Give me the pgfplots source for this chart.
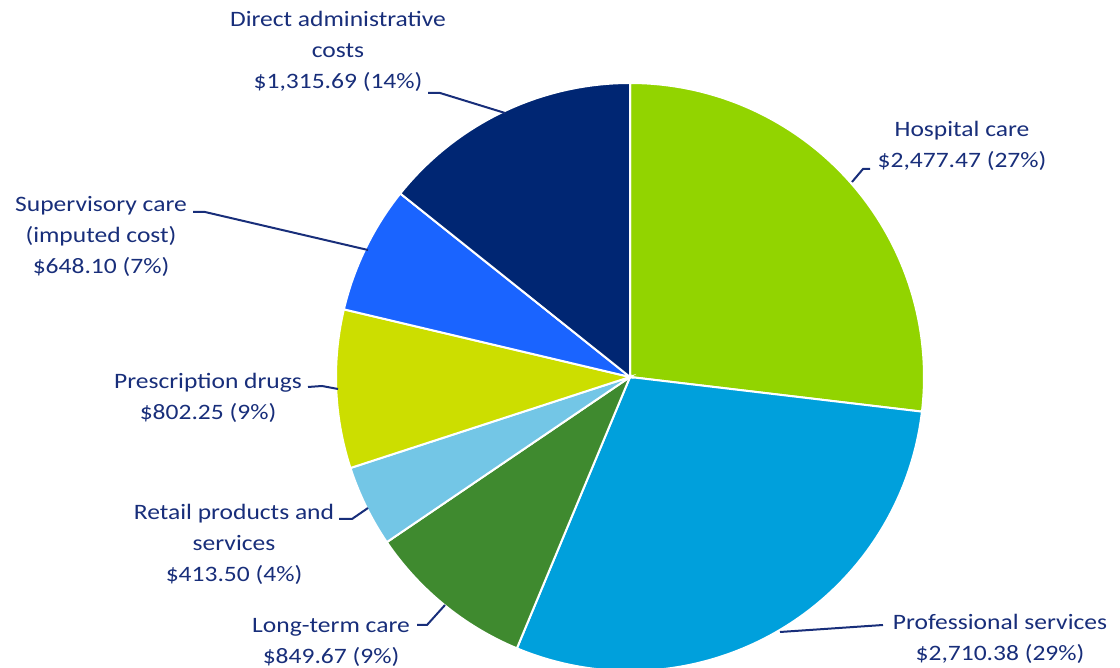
\documentclass[border=0pt]{standalone}
\usepackage{pgfplots}
\pgfplotsset{compat=1.18}
\usepackage{fontspec}
\setmainfont[FakeStretch=1.16]{Carlito}
\definecolor{txt}{RGB}{24,46,122}
\definecolor{cHosp}{RGB}{146,212,0}
\definecolor{cProf}{RGB}{0,160,220}
\definecolor{cLong}{RGB}{63,138,47}
\definecolor{cRet}{RGB}{115,198,230}
\definecolor{cPres}{RGB}{204,222,0}
\definecolor{cSup}{RGB}{26,100,255}
\definecolor{cDir}{RGB}{0,38,115}
\tikzset{lbl/.style={font=\fontsize{11}{15.5}\selectfont, text=txt, align=center, inner sep=0pt},
  ldr/.style={draw=txt, line width=1pt}}
% values
\def\vHosp{2477.47}
\def\vProf{2710.38}
\def\vLong{849.67}
\def\vRet{413.50}
\def\vPres{802.25}
\def\vSup{648.10}
\def\vDir{1315.69}
\pgfmathsetmacro{\tot}{\vHosp+\vProf+\vLong+\vRet+\vPres+\vSup+\vDir}
\pgfmathsetmacro{\aA}{90}
\pgfmathsetmacro{\aB}{\aA-360*(\vHosp/\tot)}
\pgfmathsetmacro{\aC}{\aB-360*(\vProf/\tot)}
\pgfmathsetmacro{\aD}{\aC-360*(\vLong/\tot)}
\pgfmathsetmacro{\aE}{\aD-360*(\vRet/\tot)}
\pgfmathsetmacro{\aF}{\aE-360*(\vPres/\tot)}
\pgfmathsetmacro{\aG}{\aF-360*(\vSup/\tot)}
\pgfmathsetmacro{\aH}{\aG-360*(\vDir/\tot)}
\begin{document}
\begin{tikzpicture}
\begin{axis}[name=ax,
  scale only axis, width=560pt, height=334pt,
  xmin=0, xmax=1120, ymin=0, ymax=668,
  hide axis, clip=true,
]
\addplot[fill=cHosp, draw=white, line width=1pt, domain=\aB:\aA, samples=120, variable=\t] ({630+294*cos(t)},{291+294*sin(t)}) -- (630,291) -- cycle;
\addplot[fill=cProf, draw=white, line width=1pt, domain=\aC:\aB, samples=120, variable=\t] ({630+294*cos(t)},{291+294*sin(t)}) -- (630,291) -- cycle;
\addplot[fill=cLong, draw=white, line width=1pt, domain=\aD:\aC, samples=60, variable=\t] ({630+294*cos(t)},{291+294*sin(t)}) -- (630,291) -- cycle;
\addplot[fill=cRet, draw=white, line width=1pt, domain=\aE:\aD, samples=40, variable=\t] ({630+294*cos(t)},{291+294*sin(t)}) -- (630,291) -- cycle;
\addplot[fill=cPres, draw=white, line width=1pt, domain=\aF:\aE, samples=60, variable=\t] ({630+294*cos(t)},{291+294*sin(t)}) -- (630,291) -- cycle;
\addplot[fill=cSup, draw=white, line width=1pt, domain=\aG:\aF, samples=60, variable=\t] ({630+294*cos(t)},{291+294*sin(t)}) -- (630,291) -- cycle;
\addplot[fill=cDir, draw=white, line width=1pt, domain=\aH:\aG, samples=80, variable=\t] ({630+294*cos(t)},{291+294*sin(t)}) -- (630,291) -- cycle;
% leader lines
\draw[ldr] (852,486) -- (863,499) -- (870,499);
\draw[ldr] (780,36) -- (883,43);
\draw[ldr] (417,43) -- (427,43) -- (445,63);
\draw[ldr] (339,149) -- (352,149) -- (368,160);
\draw[ldr] (308,281) -- (322,282) -- (338,279);
\draw[ldr] (193,456) -- (205,456) -- (368,418);
\draw[ldr] (428,575) -- (440,575) -- (505,555);
% labels
\node[lbl] at (962,522) {Hospital care\\\$2,477.47 (27\%)};
\node[lbl] at (1000,29) {Professional services\\\$2,710.38 (29\%)};
\node[lbl] at (331,26) {Long-term care\\\$849.67 (9\%)};
\node[lbl] at (234,124) {Retail products and\\services\\\$413.50 (4\%)};
\node[lbl] at (208,270) {Prescription drugs\\\$802.25 (9\%)};
\node[lbl] at (101,432) {Supervisory care\\(imputed cost)\\\$648.10 (7\%)};
\node[lbl] at (338,617) {Direct administrative\\costs\\\$1,315.69 (14\%)};
\end{axis}
\pgfresetboundingbox
\path[use as bounding box] (ax.south west) rectangle (ax.north east);
\end{tikzpicture}
\end{document}
